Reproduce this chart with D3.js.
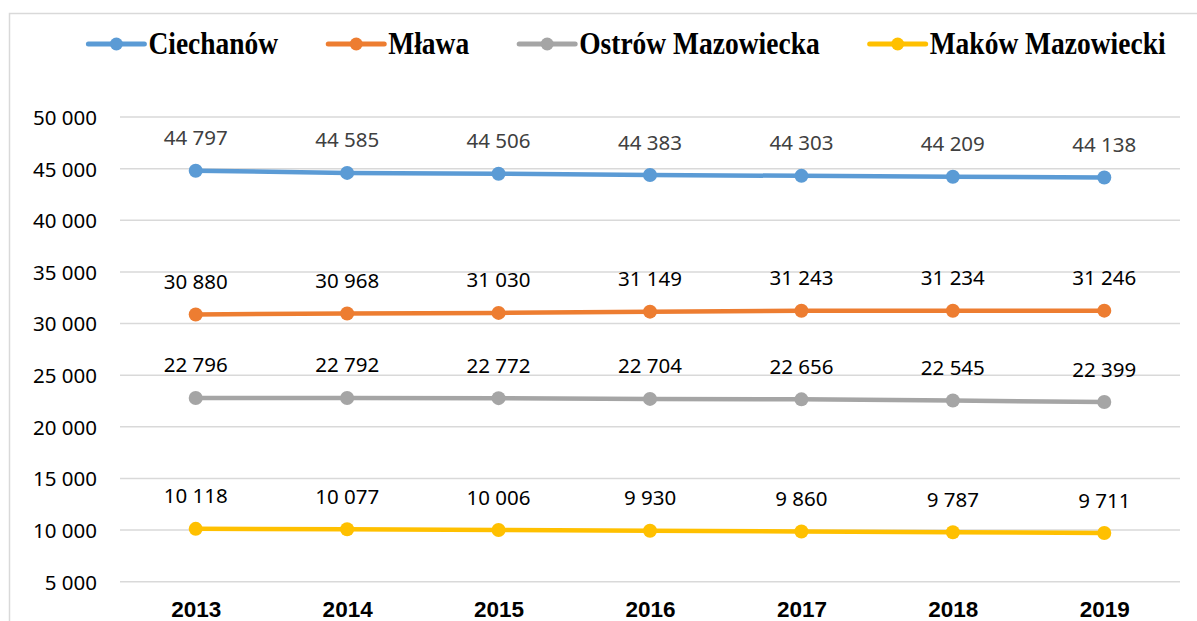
<!DOCTYPE html>
<html>
<head>
<meta charset="utf-8">
<script src="https://cdn.jsdelivr.net/npm/d3@7"></script>
<style>
  body { margin: 0; background: #fff; }
  svg { display: block; }
</style>
</head>
<body>
<div id="chart"></div>
<script>
var years = ["2013", "2014", "2015", "2016", "2017", "2018", "2019"];
var seriesNames = ["Ciechanów", "Mława", "Ostrów Mazowiecka", "Maków Mazowiecki"];
var ciechanow = [44797, 44585, 44506, 44383, 44303, 44209, 44138];
var mlawa = [30880, 30968, 31030, 31149, 31243, 31234, 31246];
var ostrow = [22796, 22792, 22772, 22704, 22656, 22545, 22399];
var makow = [10118, 10077, 10006, 9930, 9860, 9787, 9711];
var yTicks = [5000, 10000, 15000, 20000, 25000, 30000, 35000, 40000, 45000, 50000];

var colors = ["#5B9BD5", "#ED7D31", "#A5A5A5", "#FFC000"];
var labelColors = ["#404040", "#000", "#000", "#000"];
var allSeries = [ciechanow, mlawa, ostrow, makow];

var width = 1197, height = 621;
var margin = {top: 117, right: 17, bottom: 39, left: 120};

var fmt = d3.formatLocale({decimal: ",", thousands: " ", grouping: [3], currency: ["", ""]}).format(",d");

var svg = d3.select("#chart").append("svg")
    .attr("width", width)
    .attr("height", height);

// chart frame
svg.append("rect")
    .attr("x", 9.5).attr("y", 13.5)
    .attr("width", width + 20).attr("height", height + 20)
    .attr("fill", "none")
    .attr("stroke", "#D9D9D9")
    .attr("stroke-width", 1.5);

var x = d3.scalePoint()
    .domain(years)
    .range([margin.left, width - margin.right])
    .padding(0.5);

var y = d3.scaleLinear()
    .domain([5000, 50000])
    .range([581.7, margin.top]);

// gridlines
svg.append("g")
    .selectAll("line")
    .data(yTicks)
  .enter().append("line")
    .attr("x1", margin.left)
    .attr("x2", width - margin.right)
    .attr("y1", function(d) { return y(d); })
    .attr("y2", function(d) { return y(d); })
    .attr("stroke", "#D9D9D9")
    .attr("stroke-width", 1.5);

// y axis labels
var yAxis = d3.axisLeft(y)
    .tickValues(yTicks)
    .tickFormat(fmt)
    .tickSize(0)
    .tickPadding(0);

var ya = svg.append("g")
    .attr("transform", "translate(97,0)")
    .call(yAxis);
ya.select(".domain").remove();
ya.selectAll("text")
    .attr("font-family", "'Noto Sans', sans-serif")
    .attr("font-size", 20.5)
    .attr("fill", "#000")
    .attr("dy", "0.36em");

// x axis labels
var xAxis = d3.axisBottom(x).tickSize(0).tickPadding(0);
var xa = svg.append("g")
    .attr("transform", "translate(0,601)")
    .call(xAxis);
xa.select(".domain").remove();
xa.selectAll("text")
    .attr("font-family", "'Liberation Sans', Arial, sans-serif")
    .attr("font-weight", "bold")
    .attr("font-size", 22.5)
    .attr("fill", "#000")
    .attr("dy", "0.71em");

var line = d3.line()
    .x(function(d, i) { return x(years[i]); })
    .y(function(d) { return y(d); });

allSeries.forEach(function(vals, s) {
  var g = svg.append("g");
  g.append("path")
      .datum(vals)
      .attr("d", line)
      .attr("fill", "none")
      .attr("stroke", colors[s])
      .attr("stroke-width", 4.5)
      .attr("stroke-linejoin", "round");
  g.selectAll("circle")
      .data(vals)
    .enter().append("circle")
      .attr("cx", function(d, i) { return x(years[i]); })
      .attr("cy", function(d) { return y(d); })
      .attr("r", 7)
      .attr("fill", colors[s]);
  g.selectAll("text")
      .data(vals)
    .enter().append("text")
      .attr("x", function(d, i) { return x(years[i]); })
      .attr("y", function(d) { return y(d) - 25.5; })
      .attr("text-anchor", "middle")
      .attr("font-family", "'Noto Sans', sans-serif")
      .attr("font-size", 20.5)
      .attr("fill", labelColors[s])
      .text(function(d) { return fmt(d); });
});

// legend
var legend = svg.append("g");
var items = legend.selectAll("g")
    .data(seriesNames)
  .enter().append("g");
items.append("line")
    .attr("x1", 0).attr("x2", 56)
    .attr("y1", 0).attr("y2", 0)
    .attr("stroke", function(d, i) { return colors[i]; })
    .attr("stroke-width", 5)
    .attr("stroke-linecap", "round");
items.append("circle")
    .attr("cx", 28).attr("cy", 0).attr("r", 6.5)
    .attr("fill", function(d, i) { return colors[i]; });
// text is drawn a little taller than the font's natural shape, like the original
items.append("text")
    .attr("transform", "translate(60,9.5) scale(1,1.12)")
    .attr("font-family", "'Liberation Serif', 'Times New Roman', serif")
    .attr("font-weight", "bold")
    .attr("font-size", 27.5)
    .attr("fill", "#000")
    .text(function(d) { return d; });

var offset = 0, positions = [];
items.each(function() {
  positions.push(offset);
  offset += 60 + d3.select(this).select("text").node().getComputedTextLength() + 50;
});
var total = offset - 50;
var startX = 627 - total / 2;
items.attr("transform", function(d, i) { return "translate(" + (startX + positions[i]) + ",44)"; });
</script>
</body>
</html>
